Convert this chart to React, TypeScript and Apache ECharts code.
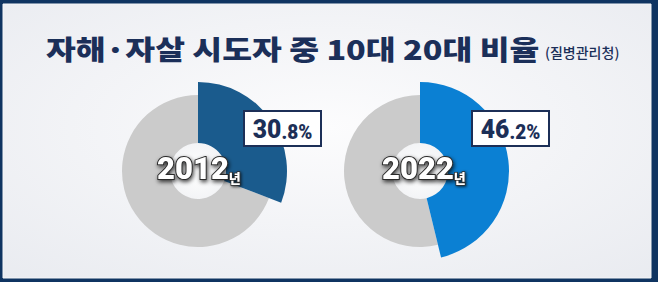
import React, { useEffect, useRef } from "react";
import * as echarts from "echarts";

const titleText = "자해·자살 시도자 중 10대 20대 비율";
const sourceText = "(질병관리청)";
const years = ["2012", "2022"];
const yearSuffix = "년";
const shares = [30.8, 46.2];
const highlightColors = ["#1a5b8d", "#0b80d3"];
const restColor = "#cbcbcb";

const centers: [number, number][] = [
  [198, 171],
  [420, 171],
];
const boxX = [244, 472];
const labelX = [157, 382];

export default function App() {
  const ref = useRef<HTMLDivElement>(null);
  useEffect(() => {
    if (!ref.current) return;
    const chart = echarts.init(ref.current, undefined, { renderer: "svg" });
    const series: any[] = [];
    const graphic: any[] = [
      {
        type: "rect",
        z: -10,
        shape: { x: 0, y: 0, width: 658, height: 282 },
        style: { fill: "#0f3461" },
        silent: true,
      },
      {
        type: "rect",
        z: -9,
        shape: { x: 3, y: 4, width: 648, height: 274 },
        style: {
          fill: new echarts.graphic.RadialGradient(0.5, 0.45, 0.75, [
            { offset: 0, color: "#fcfcfd" },
            { offset: 1, color: "#e9ebf0" },
          ]),
          stroke: "#f4f5f8",
          lineWidth: 1,
        },
        silent: true,
      },
      {
        type: "text",
        x: 46,
        y: 48,
        scaleX: 1.2,
        style: {
          text: titleText,
          fill: "#1b2f59",
          font: '900 27px "Noto Sans CJK KR"',
          verticalAlign: "middle",
        },
      },
      {
        type: "text",
        x: 545,
        y: 52,
        style: {
          text: sourceText,
          fill: "#1b2f59",
          font: '500 14px "Noto Sans CJK KR"',
          verticalAlign: "middle",
        },
      },
    ];
    shares.forEach((v, i) => {
      const rest = +(100 - v).toFixed(1);
      series.push({
        type: "pie",
        center: centers[i],
        radius: [28, 76],
        startAngle: 90,
        clockwise: true,
        silent: true,
        label: { show: false },
        labelLine: { show: false },
        data: [
          { value: v, itemStyle: { color: "rgba(0,0,0,0)" } },
          { value: rest, itemStyle: { color: restColor } },
        ],
      });
      series.push({
        type: "pie",
        center: centers[i],
        radius: [28, 89],
        startAngle: 90,
        clockwise: true,
        silent: true,
        label: { show: false },
        labelLine: { show: false },
        data: [
          { value: v, itemStyle: { color: highlightColors[i] } },
          { value: rest, itemStyle: { color: "rgba(0,0,0,0)" } },
        ],
      });
      graphic.push({
        type: "circle",
        z: -5,
        shape: { cx: centers[i][0], cy: centers[i][1], r: 28 },
        style: {
          fill: new echarts.graphic.RadialGradient(0.5, 0.5, 0.5, [
            { offset: 0, color: "#ffffff" },
            { offset: 1, color: "#f3f4f6" },
          ]),
        },
        silent: true,
      });
      graphic.push({
        type: "rect",
        z: 10,
        shape: { x: boxX[i], y: 111, width: 77, height: 35 },
        style: { fill: "#ffffff", stroke: "#1c2f57", lineWidth: 2 },
      });
      const s = v.toFixed(1);
      const [intPart, decPart] = s.split(".");
      graphic.push({
        type: "text",
        z: 11,
        x: boxX[i] + 38.5,
        y: 129,
        scaleX: 0.95,
        style: {
          text: `{a|${intPart}}{b|.${decPart}%}`,
          align: "center",
          verticalAlign: "middle",
          rich: {
            a: {
              font: '900 26px Roboto',
              fill: "#1c2f57",
              verticalAlign: "bottom",
              lineHeight: 26,
            },
            b: {
              font: '900 20px Roboto',
              fill: "#1c2f57",
              verticalAlign: "bottom",
              lineHeight: 26,
            },
          },
        },
      });
      graphic.push({
        type: "text",
        z: 13,
        x: labelX[i],
        y: 168,
        style: {
          text: `{a|${years[i]}}{b|${yearSuffix}}`,
          verticalAlign: "middle",
          rich: {
            a: {
              font: '900 31px Roboto',
              fill: "#ffffff",
              stroke: "#2b2b2b",
              lineWidth: 2,
              textShadowColor: "rgba(0,0,0,0.75)",
              textShadowBlur: 4,
              textShadowOffsetX: 1,
              textShadowOffsetY: 2,
              verticalAlign: "bottom",
              lineHeight: 30,
            },
            b: {
              font: '900 13px "Noto Sans CJK KR"',
              fill: "#ffffff",
              stroke: "#2b2b2b",
              lineWidth: 1.5,
              textShadowColor: "rgba(0,0,0,0.75)",
              textShadowBlur: 3,
              textShadowOffsetX: 1,
              textShadowOffsetY: 1,
              verticalAlign: "bottom",
              lineHeight: 31,
            },
          },
        },
      });
    });
    chart.setOption({
      animation: false,
      series,
      graphic,
    });
    return () => chart.dispose();
  }, []);
  return (
    <div
      ref={ref}
      style={{ position: "absolute", left: 0, top: 0, width: 658, height: 282 }}
    />
  );
}
